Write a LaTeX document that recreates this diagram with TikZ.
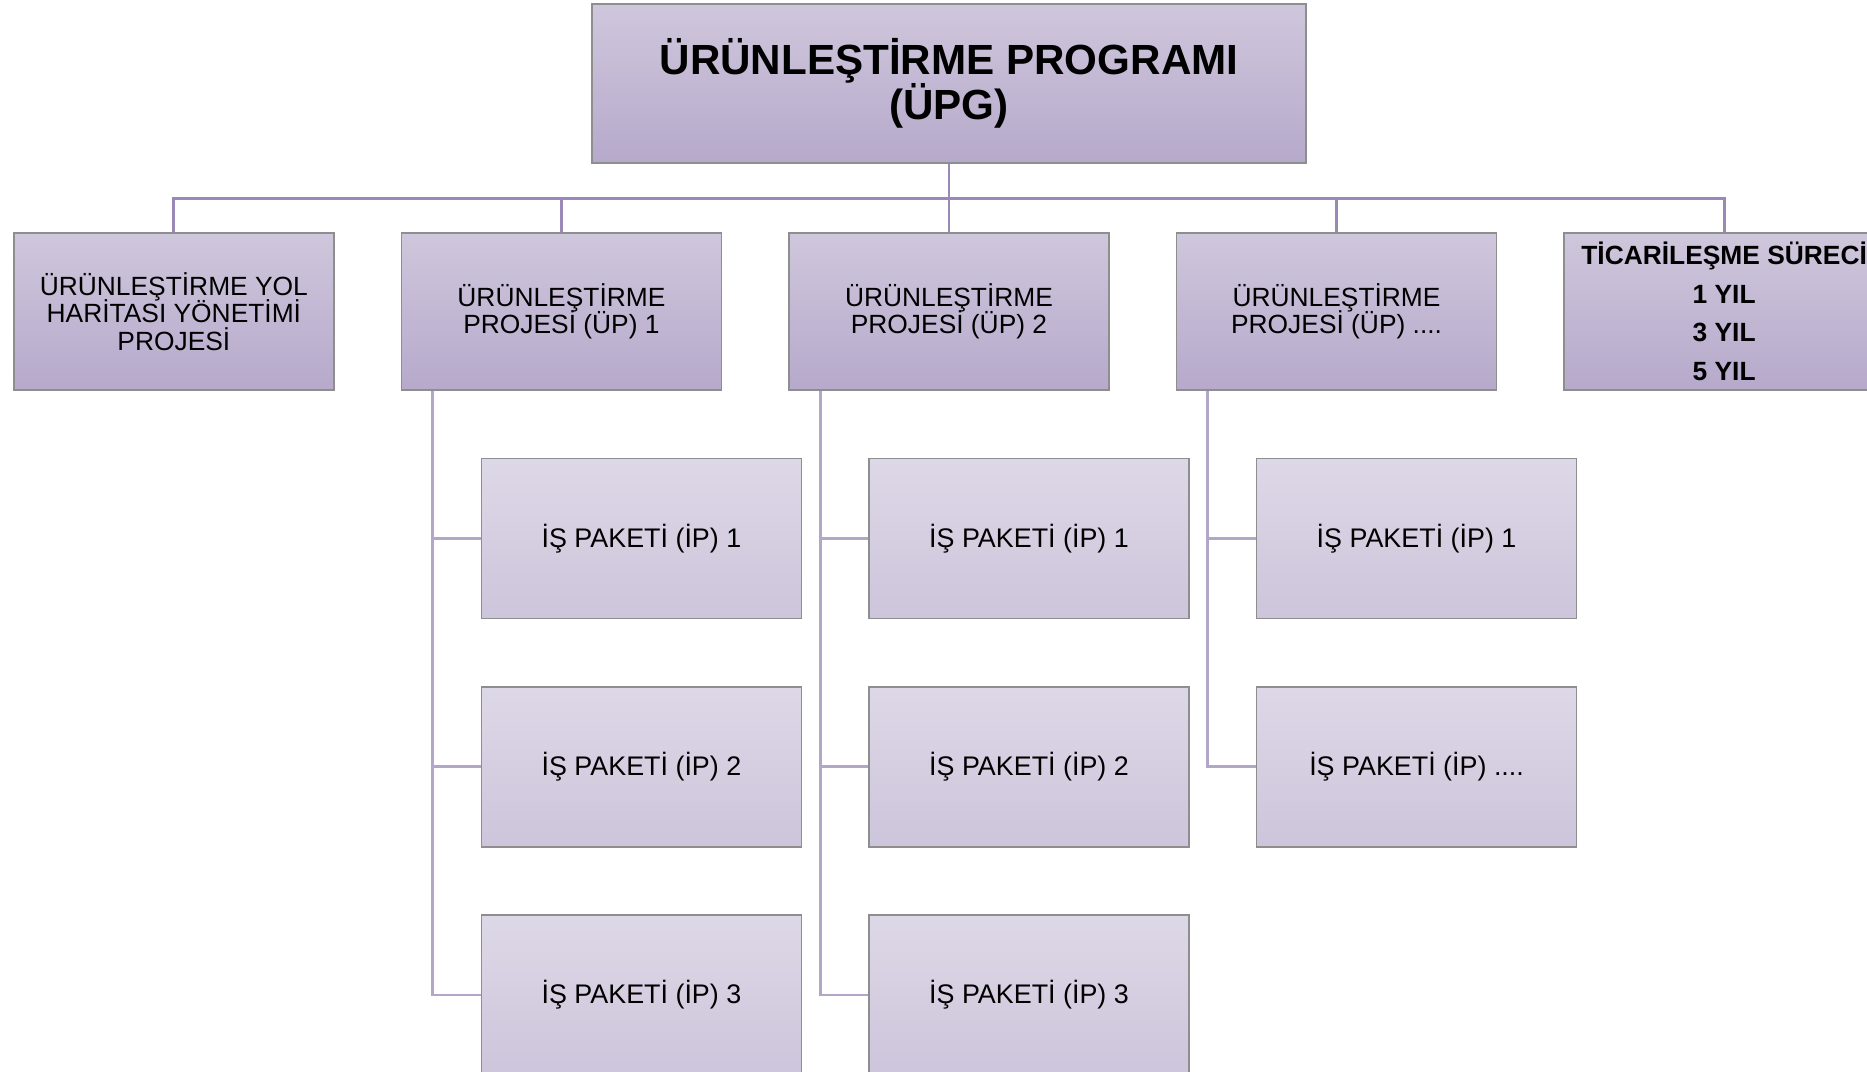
\documentclass[tikz,border=0pt]{standalone}
\usepackage{fontspec}
\setmainfont{Liberation Sans}
\usepackage{tikz}
\usetikzlibrary{positioning, calc}

\definecolor{boxtop}{HTML}{CFC7DC}
\definecolor{boxbot}{HTML}{B6A9CB}
\definecolor{subtop}{HTML}{DDD8E7}
\definecolor{subbot}{HTML}{CDC5DB}
\definecolor{edge}{HTML}{8E8E8E}
\definecolor{linkc}{HTML}{9A88B6}
\definecolor{sublinkc}{HTML}{B2A7C7}

\setlength{\lineskiplimit}{-10pt}

\begin{document}
\begin{tikzpicture}[
    node distance=0.665cm,
    mainbox/.style={
      draw=edge, line width=0.5pt, rectangle, top color=boxtop, bottom color=boxbot,
      minimum height=1.575cm, minimum width=3.2cm, inner sep=2pt, align=center,
      font=\fontsize{7.5}{7.8}\selectfont
    },
    subbox/.style={
      mainbox, top color=subtop, bottom color=subbot, minimum height=1.6cm,
      font=\fontsize{7.65}{8}\selectfont
    },
    link/.style={draw=linkc, line width=0.8pt},
    sublink/.style={draw=sublinkc, line width=0.8pt}
]
  \useasboundingbox (0,0) rectangle (18.67,-10.72);

  % Program
  \node[mainbox, minimum width=7.14cm, minimum height=1.59cm, font=\fontsize{12}{12.8}\selectfont\bfseries] (upg) at (9.49,-0.835)
    {ÜRÜNLEŞTİRME PROGRAMI\\(ÜPG)};

  % Projeler
  \node[mainbox, below=0.68cm of upg] (up2) {ÜRÜNLEŞTİRME\\PROJESİ (ÜP) 2};
  \node[mainbox, left=0.658cm of up2] (up1) {ÜRÜNLEŞTİRME\\PROJESİ (ÜP) 1};
  \node[mainbox, left=0.658cm of up1] (yol) {ÜRÜNLEŞTİRME YOL\\HARİTASI YÖNETİMİ\\PROJESİ};
  \node[mainbox, right=0.658cm of up2] (up3) {ÜRÜNLEŞTİRME\\PROJESİ (ÜP) ....};
  \node[mainbox, right=0.658cm of up3, font=\fontsize{7.5}{11}\selectfont\bfseries] (tic)
    {TİCARİLEŞME SÜRECİ\\1 YIL\\3 YIL\\5 YIL};

  % İş paketleri
  \node[subbox, below=of up1, xshift=0.8cm] (ip11) {İŞ PAKETİ (İP) 1};
  \node[subbox, below=of ip11] (ip12) {İŞ PAKETİ (İP) 2};
  \node[subbox, below=of ip12] (ip13) {İŞ PAKETİ (İP) 3};

  \node[subbox, below=of up2, xshift=0.8cm] (ip21) {İŞ PAKETİ (İP) 1};
  \node[subbox, below=of ip21] (ip22) {İŞ PAKETİ (İP) 2};
  \node[subbox, below=of ip22] (ip23) {İŞ PAKETİ (İP) 3};

  \node[subbox, below=of up3, xshift=0.8cm] (ip31) {İŞ PAKETİ (İP) 1};
  \node[subbox, below=of ip31] (ip32) {İŞ PAKETİ (İP) ....};

  % Bağlantılar
  \foreach \p in {yol, up1, up2, up3, tic}
    \draw[link] (upg.south) -- ++(0,-0.35) -| (\p.north);

  \foreach \p/\w in {up1/ip11, up1/ip12, up1/ip13, up2/ip21, up2/ip22, up2/ip23, up3/ip31, up3/ip32}
    \draw[sublink] ([xshift=0.32cm]\p.south west) |- (\w.west);
\end{tikzpicture}
\end{document}
